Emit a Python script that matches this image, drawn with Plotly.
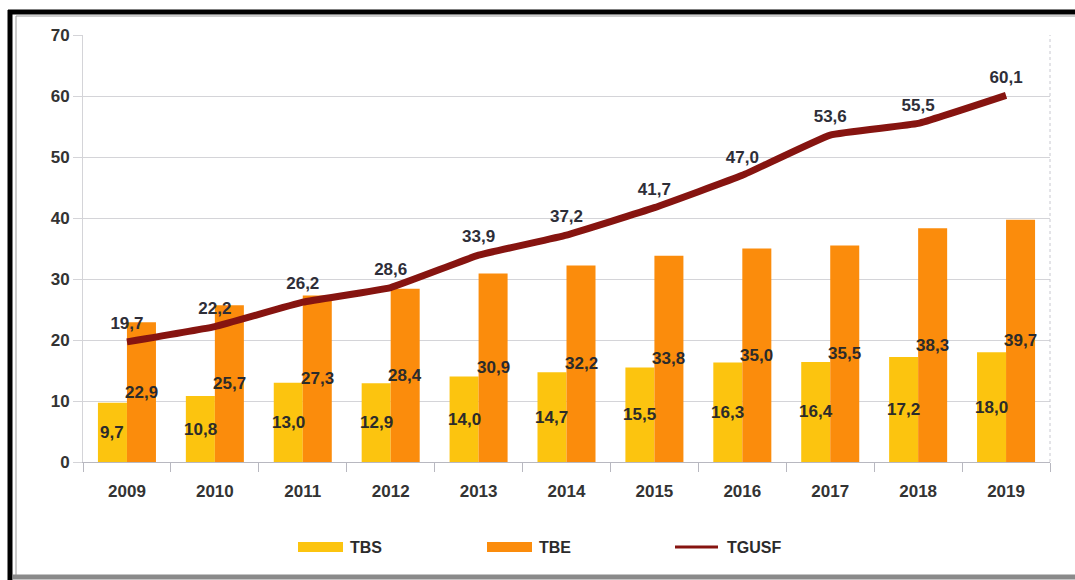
import plotly.graph_objects as go

years = ["2009", "2010", "2011", "2012", "2013", "2014", "2015", "2016", "2017", "2018", "2019"]
tbs = [9.7, 10.8, 13.0, 12.9, 14.0, 14.7, 15.5, 16.3, 16.4, 17.2, 18.0]
tbe = [22.9, 25.7, 27.3, 28.4, 30.9, 32.2, 33.8, 35.0, 35.5, 38.3, 39.7]
tgusf = [19.7, 22.2, 26.2, 28.6, 33.9, 37.2, 41.7, 47.0, 53.6, 55.5, 60.1]
y_ticks = [0, 10, 20, 30, 40, 50, 60, 70]

C_TBS = "#FCC40F"
C_TBE = "#FB8C0C"
C_LINE = "#861410"
TXT = "#2b2b2b"
FONT = "Liberation Sans"

W, H = 1075, 580
ML, MR, MT, MB = 83, 25, 35, 118
PW, PH = W - ML - MR, H - MT - MB
BARGAP = 0.34


def px(x):
    return (x - ML) / PW


def py(y):
    return (H - MB - y) / PH


fig = go.Figure()
fig.add_trace(go.Bar(name="TBS", x=years, y=tbs, marker=dict(color=C_TBS, line=dict(width=0))))
fig.add_trace(go.Bar(name="TBE", x=years, y=tbe, marker=dict(color=C_TBE, line=dict(width=0))))
fig.add_trace(go.Scatter(
    name="TGUSF", x=years, y=tgusf, mode="lines+markers+text",
    line=dict(color=C_LINE, width=7, shape="spline", smoothing=0.3),
    marker=dict(size=12, color="rgba(0,0,0,0)"),
    text=[f"{v:.1f}".replace(".", ",") for v in tgusf],
    textposition="top center",
    textfont=dict(family=FONT, size=17, color="#2e2e38", weight="bold"),
    cliponaxis=False,
))

# value labels centred inside each bar of the pair (x given as category index)
slot = PW / len(years)
half = slot * (1 - BARGAP) / 4
annotations = []
for series, shift in ((tbs, -half), (tbe, half)):
    for i, v in enumerate(series):
        annotations.append(dict(
            x=i, y=v / 2, xref="x", yref="y", xshift=shift,
            text=f"{v:.1f}".replace(".", ","), showarrow=False,
            font=dict(family=FONT, size=17, color=TXT, weight="bold"),
        ))

# legend row drawn beneath the axis
shapes = []
legend_items = [("TBS", C_TBS, "bar", 298), ("TBE", C_TBE, "bar", 487), ("TGUSF", C_LINE, "line", 675)]
for name, col, kind, x0 in legend_items:
    if kind == "bar":
        shapes.append(dict(type="rect", xref="paper", yref="paper",
                           x0=px(x0), x1=px(x0 + 45), y0=py(552), y1=py(542),
                           fillcolor=col, line=dict(width=0)))
    else:
        shapes.append(dict(type="line", xref="paper", yref="paper",
                           x0=px(x0), x1=px(x0 + 43), y0=py(547), y1=py(547),
                           line=dict(color=col, width=3)))
    annotations.append(dict(
        x=px(x0 + 50), y=py(547), xref="paper", yref="paper",
        xanchor="left", yanchor="middle", text=name, showarrow=False,
        font=dict(family=FONT, size=16, color=TXT, weight="bold"),
    ))

# dotted right edge of the plotting area
shapes.append(dict(type="line", xref="paper", yref="paper", x0=1, x1=1, y0=0, y1=1,
                   line=dict(color="#c8c8d0", width=1, dash="dot")))

# outer frame
shapes += [
    dict(type="line", xref="paper", yref="paper", x0=px(10), x1=px(10), y0=py(10), y1=py(580),
         line=dict(color="#000000", width=5)),
    dict(type="line", xref="paper", yref="paper", x0=px(8), x1=px(1075), y0=py(12), y1=py(12),
         line=dict(color="#000000", width=5)),
    dict(type="line", xref="paper", yref="paper", x0=px(16), x1=px(16), y0=py(16), y1=py(576),
         line=dict(color="#9a9a9a", width=1)),
    dict(type="line", xref="paper", yref="paper", x0=px(16), x1=px(1075), y0=py(16), y1=py(16),
         line=dict(color="#9a9a9a", width=1)),
    dict(type="line", xref="paper", yref="paper", x0=px(13), x1=px(1075), y0=py(577), y1=py(577),
         line=dict(color="#8a8a8a", width=5)),
]

fig.update_layout(
    width=W, height=H,
    margin=dict(l=ML, r=MR, t=MT, b=MB),
    paper_bgcolor="white", plot_bgcolor="white",
    barmode="group", bargap=BARGAP, bargroupgap=0,
    showlegend=False,
    font=dict(family=FONT, size=16, color=TXT),
    annotations=annotations, shapes=shapes,
)
fig.update_xaxes(
    type="category", range=[-0.5, len(years) - 0.5],
    showgrid=False, showline=True, linecolor="#b8b8c0", linewidth=1,
    ticks="outside", tickson="boundaries", ticklen=9, tickcolor="#b8b8c0",
    ticklabelstandoff=14,
    tickfont=dict(family=FONT, size=17, color="#333333", weight="bold"),
)
fig.update_yaxes(
    range=[0, 70], tickvals=y_ticks, showgrid=True, gridcolor="#d4d4d8", gridwidth=1,
    showline=True, linecolor="#d4d4d8", zeroline=False,
    ticks="outside", ticklen=9, tickcolor="#d4d4d8",
    tickfont=dict(family=FONT, size=17, color="#333333", weight="bold"),
)

fig.write_html("out.html")
